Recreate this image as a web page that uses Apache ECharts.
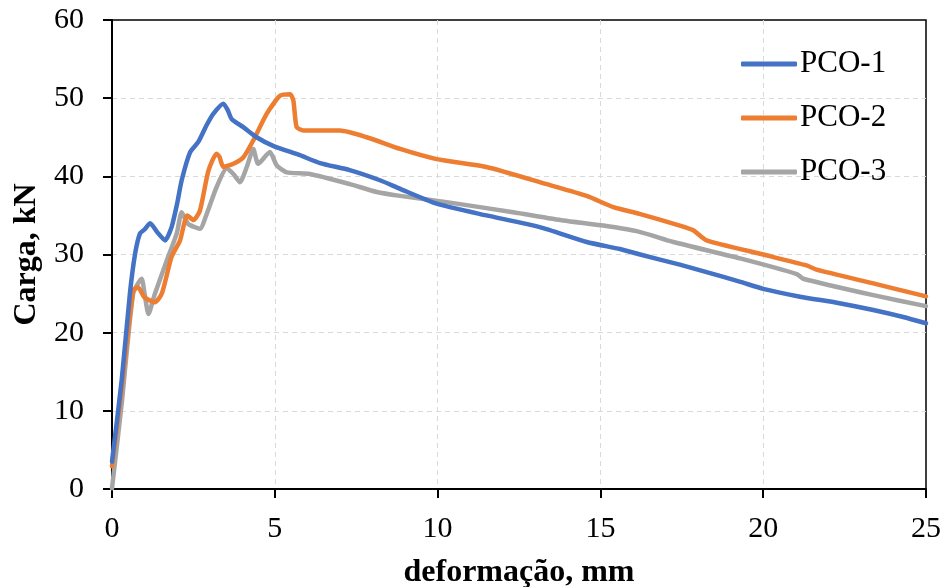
<!DOCTYPE html>
<html>
<head>
<meta charset="utf-8">
<script src="https://cdn.jsdelivr.net/npm/echarts@6/dist/echarts.min.js"></script>
<style>
html,body{margin:0;padding:0;background:#fff;}
#chart{width:945px;height:587px;}
</style>
</head>
<body>
<div id="chart"></div>
<script>
const seriesNames = ['PCO-1', 'PCO-2', 'PCO-3'];
const xTicks = [0, 5, 10, 15, 20, 25];
const yTicks = [0, 10, 20, 30, 40, 50, 60];

const pco1X = [0,0.3,0.55,0.71,0.86,1.0,1.17,1.4,1.63,1.83,2.0,2.14,2.4,2.65,2.9,3.11,3.42,3.55,3.68,4.03,4.44,4.95,5.77,6.39,7.3,8.23,8.85,9.97,11.5,13.14,14.58,15.6,16.22,17.44,18.26,19.3,20,21.13,22.3,23.38,24.3,25];
const pco1Y = [3.5,14,25,30.1,32.7,33.2,34.0,32.8,31.8,33.5,36.5,39.5,43.1,44.4,46.5,48.0,49.3,48.5,47.3,46.3,45.0,43.9,42.7,41.7,40.8,39.5,38.4,36.5,35.0,33.5,31.6,30.7,30.0,28.7,27.75,26.5,25.6,24.6,23.8,22.9,22.0,21.2];

const pco2X = [0,0.3,0.65,0.8,1.0,1.32,1.53,1.83,2.09,2.31,2.5,2.7,2.96,3.21,3.3,3.42,3.73,4.03,4.34,4.75,5.16,5.47,5.57,5.67,5.88,7.0,7.82,8.85,9.97,11.5,13.35,14.58,15.4,16.2,17.44,17.85,18.26,20.0,21.33,21.64,23.38,25];
const pco2Y = [2.9,13,25.4,25.8,24.5,23.9,25.0,29.7,31.8,35.0,34.4,35.6,40.7,42.9,42.5,41.2,41.6,42.4,44.6,48.0,50.3,50.5,49.7,46.3,45.85,45.85,45.0,43.5,42.2,41.2,39.0,37.5,36.05,35.2,33.7,33.1,31.8,30.0,28.6,28.06,26.3,24.65];

const pco3X = [0,0.3,0.65,0.91,1.0,1.12,1.32,1.68,1.99,2.14,2.34,2.7,2.91,3.21,3.52,3.73,3.93,4.14,4.34,4.49,4.85,5.06,5.37,6.08,7.31,8.13,8.85,10.28,12.32,13.86,15.09,16.2,17.24,19.29,21.03,21.23,23.38,25];
const pco3Y = [0.1,11,25.0,26.9,25,22.4,25.0,29.2,32.7,35.4,33.9,33.3,35.2,38.6,41.0,40.3,39.25,41.2,43.5,41.6,43.1,41.4,40.5,40.3,39.0,38.0,37.5,36.7,35.4,34.35,33.7,32.9,31.6,29.5,27.5,26.9,24.8,23.4];

const colors = ['#4472C4', '#ED7D31', '#A5A5A5'];
function pairs(xs, ys) { return xs.map((x, i) => [x, ys[i]]); }
const allData = [pairs(pco1X, pco1Y), pairs(pco2X, pco2Y), pairs(pco3X, pco3Y)];

const font = '"Liberation Serif", "Times New Roman", serif';
const chart = echarts.init(document.getElementById('chart'), null, {renderer: 'canvas'});

const legendTops = [48, 102, 156];
const option = {
  animation: false,
  backgroundColor: '#fff',
  grid: {left: 112, right: 19, top: 20, bottom: 98, containLabel: false, outerBoundsMode: 'none',
         show: true, borderColor: '#000', borderWidth: 1.5, backgroundColor: 'transparent'},
  legend: seriesNames.map((n, i) => ({
    data: [n], left: 741, top: legendTops[i], padding: 0, itemWidth: 56, itemHeight: 5, itemGap: 0,
    icon: 'roundRect',
    textStyle: {fontFamily: font, fontSize: 31, lineHeight: 32, color: '#000', padding: [0, 0, 0, -2]},
  })),
  xAxis: {
    type: 'value', min: 0, max: 25, interval: 5,
    name: 'deformação, mm', nameLocation: 'middle', nameGap: 68,
    nameTextStyle: {fontFamily: font, fontSize: 32, fontWeight: 'bold', color: '#000'},
    axisLine: {show: true, onZero: false, lineStyle: {color: '#000', width: 2}},
    axisTick: {show: true, inside: false, length: 9, lineStyle: {color: '#000', width: 2}},
    axisLabel: {fontFamily: font, fontSize: 30, color: '#000', margin: 25, formatter: v => xTicks.includes(v) ? String(v) : ''},
    splitLine: {show: true, showMinLine: false, showMaxLine: false, lineStyle: {color: '#d9d9d9', type: [5, 4], width: 1}},
  },
  yAxis: {
    type: 'value', min: 0, max: 60, interval: 10,
    name: 'Carga, kN', nameLocation: 'middle', nameGap: 63, nameRotate: 90,
    nameTextStyle: {fontFamily: font, fontSize: 32, fontWeight: 'bold', color: '#000'},
    axisLine: {show: true, onZero: false, lineStyle: {color: '#000', width: 2}},
    axisTick: {show: true, inside: false, length: 9, lineStyle: {color: '#000', width: 2}},
    axisLabel: {fontFamily: font, fontSize: 30, color: '#000', margin: 28, formatter: v => yTicks.includes(v) ? String(v) : ''},
    splitLine: {show: true, showMinLine: false, showMaxLine: false, lineStyle: {color: '#d9d9d9', type: [5, 4], width: 1}},
  },
  series: seriesNames.map((n, i) => ({
    name: n, type: 'line', data: allData[i], showSymbol: false, smooth: 0.2,
    lineStyle: {color: colors[i], width: 4.5, cap: 'round', join: 'round'},
    itemStyle: {color: colors[i]}, z: 3 - i,
  })),
};
chart.setOption(option);
</script>
</body>
</html>
